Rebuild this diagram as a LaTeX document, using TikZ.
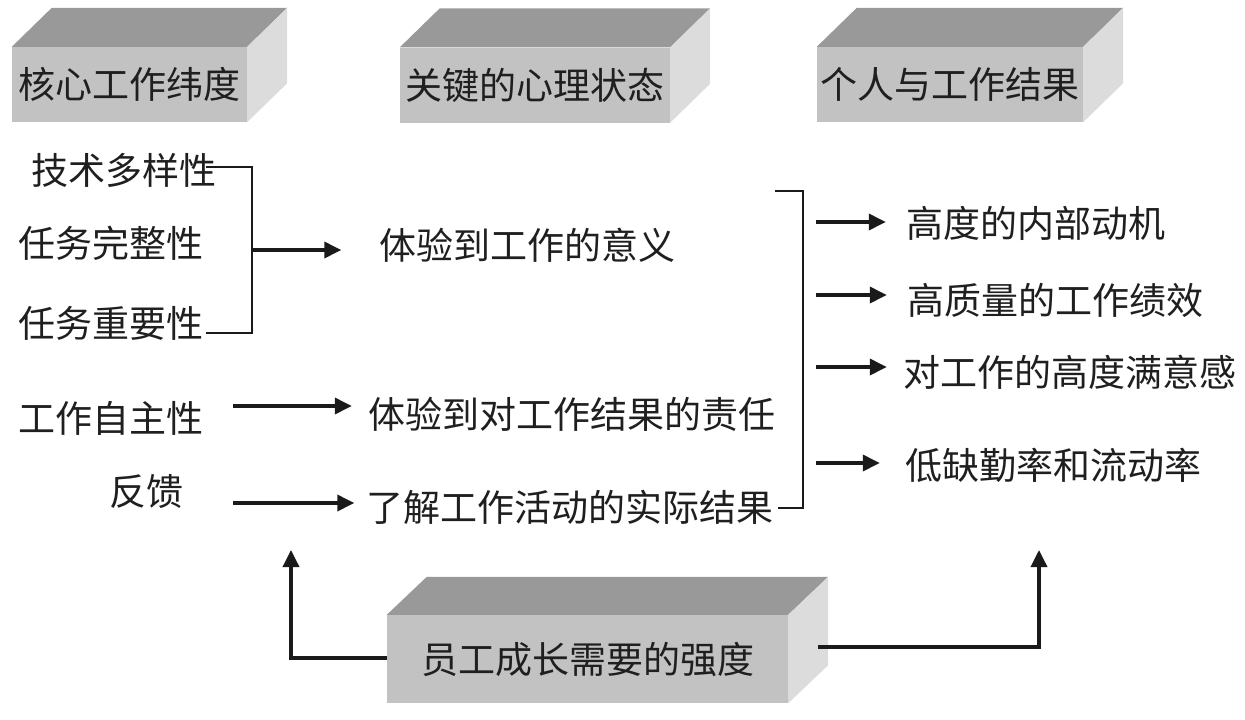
\documentclass[tikz,border=0pt]{standalone}
\usepackage{fontspec}
\newfontfamily\cjk{Noto Sans CJK SC}
\usetikzlibrary{arrows.meta,calc}
\definecolor{frontgray}{HTML}{C2C2C2}
\definecolor{topgray}{HTML}{999999}
\definecolor{sidegray}{HTML}{DCDCDC}
\definecolor{linec}{HTML}{1A1A1A}
\begin{document}
\begin{tikzpicture}[x=1pt,y=-1pt,
  txt/.style={font=\cjk\fontsize{37}{40}\selectfont, inner sep=0pt, text=black!88},
  front/.style={txt, fill=frontgray, minimum height=75pt},
  topface/.style={fill=topgray},
  sideface/.style={fill=sidegray},
  ln/.style={line width=2.2pt, draw=linec},
  arr/.style={line width=3.5pt, draw=linec, -{Triangle[length=17pt,width=16pt]}},
]
\useasboundingbox (0,0) rectangle (1245,720);

% header boxes
\node[front, minimum width=235pt] (h1) at (129.5,84.5) {核心工作纬度};
\node[front, minimum width=270pt] (h2) at (535,85) {关键的心理状态};
\node[front, minimum width=266pt] (h3) at (950,84.5) {个人与工作结果};
\node[front, minimum width=401pt, minimum height=88pt] (g) at (587.5,659) {员工成长需要的强度};

\foreach \b/\dy in {h1/39,h2/39,h3/39,g/38}{
  \fill[topface] (\b.north west) -- ++(40,-\dy) -- ($(\b.north east)+(40,-\dy)$) -- (\b.north east) -- cycle;
  \fill[sideface] (\b.north east) -- ++(40,-\dy) -- ($(\b.south east)+(40,-\dy)$) -- (\b.south east) -- cycle;
}

% left column
\node[txt] (tech) at (123.5,170) {技术多样性};
\node[txt] (whole) at (111.5,243) {任务完整性};
\node[txt] (impt) at (111.5,323) {任务重要性};
\node[txt] (auto) at (111.5,418) {工作自主性};
\node[txt] (fb) at (146.5,492) {反馈};

% middle column
\node[txt] (mean) at (527.5,245) {体验到工作的意义};
\node[txt] (resp) at (571.5,414) {体验到对工作结果的责任};
\node[txt] (know) at (570,507) {了解工作活动的实际结果};

% right column
\node[txt] (o1) at (1035.5,223) {高度的内部动机};
\node[txt] (o2) at (1055,300) {高质量的工作绩效};
\node[txt] (o3) at (1069.5,372) {对工作的高度满意感};
\node[txt] (o4) at (1053,465) {低缺勤率和流动率};

% coordinates
\coordinate (bT) at (252,167);
\coordinate (bB) at (252,333);
\coordinate (jL) at (252,250);
\coordinate (a2) at (233,406);
\coordinate (a3) at (233,503);
\coordinate (rbT) at (775,191);
\coordinate (rbX) at (803,191);
\coordinate (rbB) at (803,508);
\coordinate (r1) at (816,222);
\coordinate (r2) at (816,295);
\coordinate (r3) at (816,367);
\coordinate (r4) at (816,463);
\coordinate (upL) at (291,550);
\coordinate (gR) at (818,647);
\coordinate (upR) at (1039,550);

% left bracket
\draw[ln] ([xshift=-10pt]tech.east |- bT) -- (bT) -- (bB) -- ([xshift=2pt]impt.east |- bB);
\draw[arr] (jL) -- ([xshift=-38pt]jL -| mean.west);

% middle arrows
\draw[arr] (a2) -- ([xshift=-16pt]a2 -| resp.west);
\draw[arr] (a3) -- ([xshift=-12pt]a3 -| know.west);

% right bracket
\draw[ln] (rbT) -- (rbX) -- (rbB) -- ([xshift=4pt]know.east |- rbB);

% right arrows
\draw[arr] (r1) -- ([xshift=-20pt]r1 -| o1.west);
\draw[arr] (r2) -- ([xshift=-20pt]r2 -| o2.west);
\draw[arr] (r3) -- ([xshift=-16pt]r3 -| o3.west);
\draw[arr] (r4) -- ([xshift=-25pt]r4 -| o4.west);

% bottom arrows
\draw[arr] (g.west |- 0,658) -| (upL);
\draw[arr] (gR) -| (upR);
\end{tikzpicture}
\end{document}
